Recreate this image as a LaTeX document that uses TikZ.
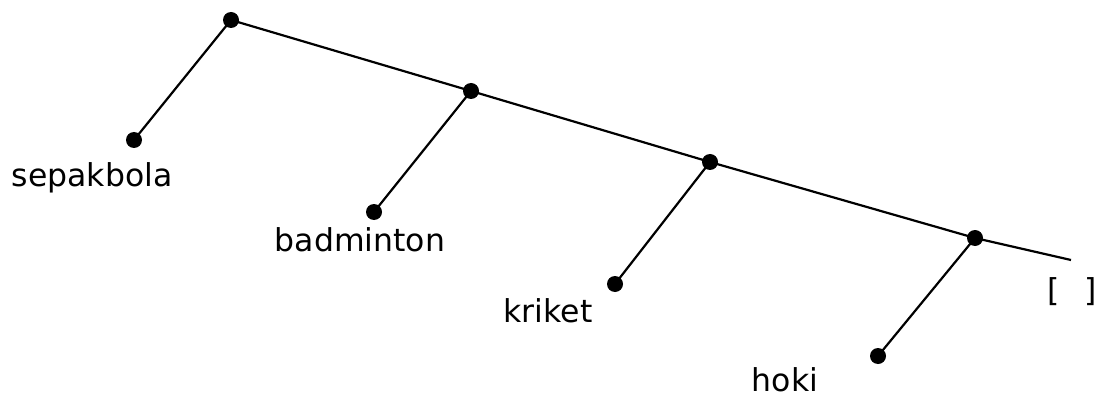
\documentclass[tikz,border=0pt]{standalone}
\usepackage{fontspec}
\setmainfont{DejaVu Sans}
\usetikzlibrary{positioning}

\tikzset{
	dot/.style={circle, fill=black, inner sep=0pt, minimum size=16pt},
	branch/.style={line width=2.2pt},
	leaf/.style={anchor=base, font=\fontsize{31.5}{36}\selectfont, inner sep=0pt}
}

\begin{document}
\begin{tikzpicture}[x=1pt, y=-1pt]
		\useasboundingbox (0,0) rectangle (1107,398);
		% spine
		\node[dot] (s1) at (231,20) {};
		\node[dot] (s2) at (471,91) {};
		\node[dot] (s3) at (710,162) {};
		\node[dot] (s4) at (975,238) {};
		\coordinate (nil) at (1071,260);
		% leaves
		\node[dot] (e1) at (134,140) {};
		\node[dot] (e2) at (374,212) {};
		\node[dot] (e3) at (615,284) {};
		\node[dot] (e4) at (878,356) {};
		\draw[branch] (s1.center) -- (s2.center) -- (s3.center) -- (s4.center) -- (nil);
		\draw[branch] (s1.center) -- (e1.center);
		\draw[branch] (s2.center) -- (e2.center);
		\draw[branch] (s3.center) -- (e3.center);
		\draw[branch] (s4.center) -- (e4.center);
		\node[leaf] (sepakbola) at (92,186) {sepakbola};
		\node[leaf] (badminton) at (360,251) {badminton};
		\node[leaf] (kriket) at (548,322) {kriket};
		\node[leaf] (hoki) at (785,391) {hoki};
		\node[leaf] (kosong) at (1072,301) {[\hspace{0.8em}]};
	\end{tikzpicture}
\end{document}
